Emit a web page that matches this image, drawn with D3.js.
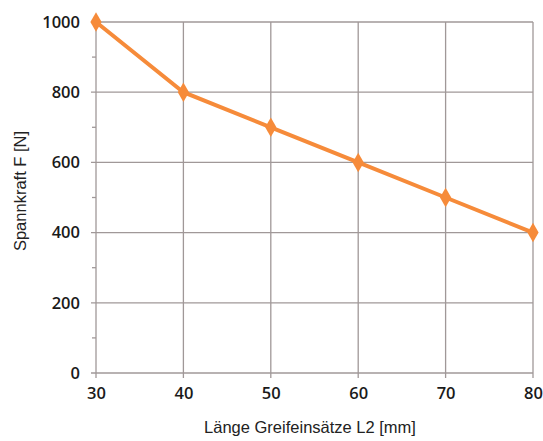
<!DOCTYPE html>
<meta charset="utf-8">
<script src="https://d3js.org/d3.v7.min.js"></script>
<style>
body { margin: 0; background: #fff; }
.tick text { font-family: "Open Sans", sans-serif; font-weight: 600; font-size: 16.5px; fill: #1a1a1a; }
.title { font-family: "Liberation Sans", Arial, sans-serif; font-size: 16.5px; fill: #222; }
</style>
<body>
<div id="vis"></div>
<script>

var lengths = [30, 40, 50, 60, 70, 80];
var forces = [1000, 800, 700, 600, 500, 400];
var yTicks = [0, 200, 400, 600, 800, 1000];
var yMinor = [100, 300, 500, 700, 900];

var width = 543, height = 441;
var margin = {top: 22, right: 10, bottom: 68, left: 96};

var svg = d3.select("#vis").append("svg")
  .attr("width", width)
  .attr("height", height);

var x = d3.scaleLinear()
  .domain([30, 80])
  .range([margin.left, width - margin.right]);

var y = d3.scaleLinear()
  .domain([0, 1000])
  .range([height - margin.bottom, margin.top]);

var grid = "#a09898";

// grid
svg.append("g").selectAll("line.h")
  .data(yTicks)
  .enter().append("line")
  .attr("x1", x(30) - 5).attr("x2", x(80))
  .attr("y1", function(d) { return y(d); })
  .attr("y2", function(d) { return y(d); })
  .attr("stroke", grid).attr("stroke-width", 1.3);

svg.append("g").selectAll("line.v")
  .data(lengths)
  .enter().append("line")
  .attr("x1", function(d) { return x(d); })
  .attr("x2", function(d) { return x(d); })
  .attr("y1", y(1000)).attr("y2", y(0) + 5)
  .attr("stroke", grid).attr("stroke-width", 1.3);

svg.append("g").selectAll("line.m")
  .data(yMinor)
  .enter().append("line")
  .attr("x1", x(30) - 4).attr("x2", x(30))
  .attr("y1", function(d) { return y(d); })
  .attr("y2", function(d) { return y(d); })
  .attr("stroke", grid).attr("stroke-width", 1.3);

// axes labels
var xAxis = svg.append("g")
  .attr("transform", "translate(0," + y(0) + ")")
  .call(d3.axisBottom(x).tickValues(lengths).tickSize(0).tickPadding(14));
xAxis.select(".domain").remove();

var yAxis = svg.append("g")
  .attr("transform", "translate(" + x(30) + ",0)")
  .call(d3.axisLeft(y).tickValues(yTicks).tickFormat(d3.format("d")).tickSize(0).tickPadding(16));
yAxis.select(".domain").remove();

svg.append("text")
  .attr("class", "title")
  .attr("x", 310)
  .attr("y", 433)
  .attr("text-anchor", "middle")
  .text("Länge Greifeinsätze L2 [mm]");

svg.append("text")
  .attr("class", "title")
  .attr("transform", "translate(26,191) rotate(-90)")
  .attr("text-anchor", "middle")
  .text("Spannkraft F [N]");

// series
var data = lengths.map(function(d, i) { return {x: d, y: forces[i]}; });
var orange = "#f68b3a";

svg.append("path")
  .datum(data)
  .attr("fill", "none")
  .attr("stroke", orange)
  .attr("stroke-width", 4)
  .attr("d", d3.line().x(function(d) { return x(d.x); }).y(function(d) { return y(d.y); }));

svg.append("g").selectAll("path")
  .data(data)
  .enter().append("path")
  .attr("transform", function(d) { return "translate(" + x(d.x) + "," + y(d.y) + ")"; })
  .attr("d", d3.symbol().type(d3.symbolDiamond).size(110))
  .attr("fill", orange);

</script>
</body>
